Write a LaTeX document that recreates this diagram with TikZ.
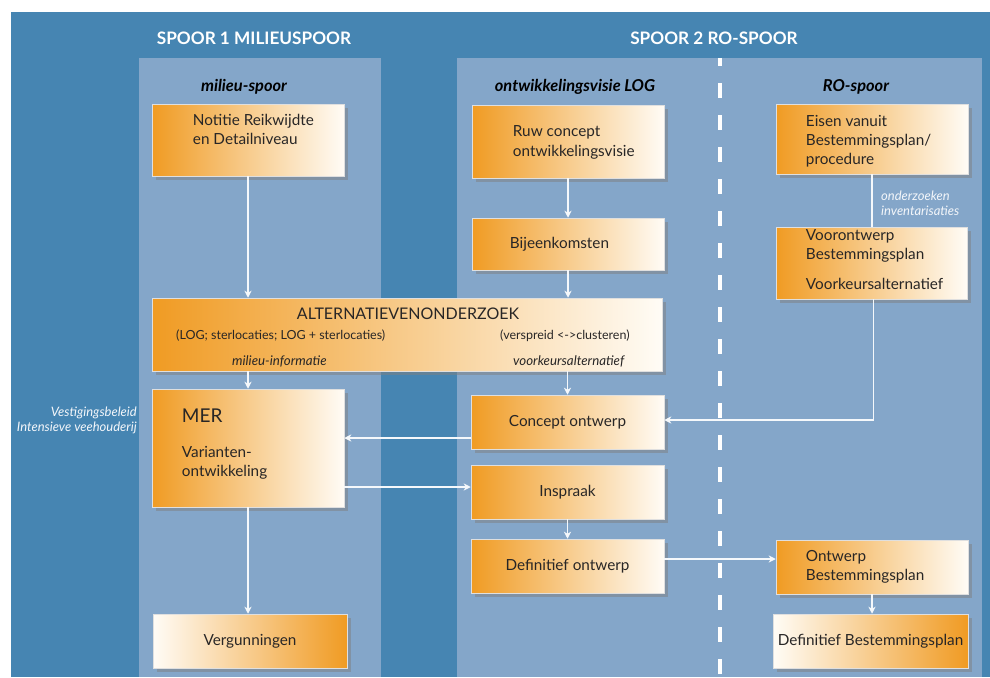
\documentclass[tikz,border=0pt]{standalone}
\usepackage{fontspec}
\setmainfont{Lato}
\usepackage{tikz}
\usetikzlibrary{arrows.meta,shadows}
\definecolor{donker}{RGB}{70,133,178}
\definecolor{licht}{RGB}{132,166,201}
\definecolor{oranje}{RGB}{240,155,35}
\definecolor{creme}{RGB}{255,252,246}
\definecolor{tekst}{RGB}{40,38,38}

\begin{document}
\begin{tikzpicture}[x=1pt,y=-1pt,>={Stealth[length=7pt,width=7pt,inset=2pt]},
 stap/.style={rectangle,draw=white!75!gray,line width=0.5pt,left color=oranje,right color=creme,
  drop shadow={shadow xshift=4pt,shadow yshift=-4pt,opacity=0.5},inner sep=0pt,
  text=tekst,font=\fontsize{15.3}{19}\selectfont},
 stapr/.style={stap,left color=creme,right color=oranje},
 blok/.style={inner sep=0pt,align=left,text=tekst,font=\fontsize{15.3}{19}\selectfont},
 pijl/.style={draw=white!92!licht,line width=1.2pt},
 kop/.style={text=white,font=\bfseries\fontsize{17.2}{22}\selectfont},
 subkop/.style={text=black,font=\bfseries\itshape\fontsize{16.4}{18}\selectfont},
 opm/.style={inner sep=0pt,text=white!90!licht,font=\itshape\fontsize{13}{15}\selectfont}]
\useasboundingbox (0,0) rectangle (990,677);
\fill[white] (0,0) rectangle (990,677);
\fill[donker] (11,12) rectangle (990,677);
\fill[licht] (139,58) rectangle (381,677);
\fill[licht] (457,58) rectangle (982,677);
\draw[white,line width=4pt,dash pattern=on 15pt off 17pt,dash phase=7pt] (720,58) -- (720,677);

\node[kop] (spoor1) at (254,38) {SPOOR 1 MILIEUSPOOR};
\node[kop] (spoor2) at (714,38) {SPOOR 2 RO-SPOOR};
\node[subkop] (milieu) at (244,87) {milieu-spoor};
\node[subkop] (log) at (575,87) {ontwikkelingsvisie LOG};
\node[subkop] (ro) at (856,87) {RO-spoor};

\node[stap,minimum width=192,minimum height=72] (notitie) at (248,140) {};
\node[blok,anchor=west] (notitiet) at ([xshift=41pt,yshift=11pt]notitie.west) {Notitie Reikwijdte\\en Detailniveau};
\node[stap,minimum width=192,minimum height=73] (ruw) at (568,141.5) {};
\node[blok,anchor=west,font=\fontsize{15.3}{20}\selectfont] (ruwt) at ([xshift=41pt,yshift=-1pt]ruw.west) {Ruw concept\\ontwikkelingsvisie};
\node[stap,minimum width=192,minimum height=70] (eisen) at (872,139) {};
\node[blok,anchor=west] (eisent) at ([xshift=30pt,yshift=-2pt]eisen.west) {Eisen vanuit\\Bestemmingsplan/\\procedure};
\node[stap,minimum width=192,minimum height=52] (bijeen) at (568,244) {};
\node[blok,anchor=west] (bijeent) at ([xshift=38pt]bijeen.west) {Bijeenkomsten};
\node[stap,minimum width=191,minimum height=72] (voor) at (871.5,263) {};
\node[blok,anchor=west] (voort) at ([xshift=30pt,yshift=3pt]voor.west) {Voorontwerp\\Bestemmingsplan\\[11pt]Voorkeursalternatief};

\node[stap,minimum width=510,minimum height=73] (alt) at (407,334.5) {};
\node[blok,font=\fontsize{16}{20}\selectfont] (altt) at (408,314) {ALTERNATIEVENONDERZOEK};
\node[blok,anchor=west,font=\fontsize{12.5}{15}\selectfont] (altl) at (176,336) {(LOG; sterlocaties; LOG + sterlocaties)};
\node[blok,anchor=west,font=\fontsize{12.5}{15}\selectfont] (altr) at (500,336) {(verspreid <->clusteren)};
\node[blok,anchor=west,font=\itshape\fontsize{13.3}{15}\selectfont] (mi) at (232,361) {milieu-informatie};
\node[blok,anchor=west,font=\itshape\fontsize{13.3}{15}\selectfont] (vk) at (513,361) {voorkeursalternatief};

\node[stap,minimum width=192,minimum height=118] (mer) at (248,448) {};
\node[blok,anchor=west] (mert) at ([xshift=30pt,yshift=4pt]mer.west) {{\fontsize{19}{20}\selectfont MER}\\[16pt]Varianten-\\ontwikkeling};
\node[stap,minimum width=193,minimum height=54] (concept) at (567.5,422) {Concept ontwerp};
\node[stap,minimum width=193,minimum height=54] (inspraak) at (567.5,492) {Inspraak};
\node[stap,minimum width=193,minimum height=54] (defontw) at (567.5,566) {Definitief ontwerp};
\node[stap,minimum width=192,minimum height=54] (ontwbp) at (872,567) {};
\node[blok,anchor=west] (ontwbpt) at ([xshift=30pt]ontwbp.west) {Ontwerp\\Bestemmingsplan};
\node[stapr,minimum width=194,minimum height=54] (vergun) at (250,641) {Vergunningen};
\node[stapr,minimum width=195,minimum height=54] (defbp) at (870.5,641) {Definitief Bestemmingsplan};

\node[opm,anchor=east,align=right] (beleid) at (137,420) {Vestigingsbeleid\\Intensieve veehouderij};
\node[opm,anchor=west,align=left] (onderzoek) at (881,203) {onderzoeken\\inventarisaties};

\draw[pijl,->] (notitie.south) -- (notitie.south |- alt.north);
\draw[pijl,->] (ruw) -- (bijeen);
\draw[pijl,->] (bijeen.south) -- (bijeen.south |- alt.north);
\draw[pijl] (eisen.south) -- (eisen.south |- voor.north);
\draw[pijl,->] ([xshift=2pt]voor.south) |- ([yshift=2pt]concept.east);
\draw[pijl,->] (mer.north |- alt.south) -- (mer.north);
\draw[pijl,->] (concept.north |- alt.south) -- (concept.north);
\draw[pijl,->] ([yshift=-16pt]concept.west) -- ([yshift=-16pt]concept.west -| mer.east);
\draw[pijl,->] ([yshift=5pt]inspraak.west -| mer.east) -- ([yshift=5pt]inspraak.west);
\draw[pijl,->] (inspraak) -- (defontw);
\draw[pijl,->] ([yshift=7pt]defontw.east) -- ([yshift=7pt]defontw.east -| ontwbp.west);
\draw[pijl,->] (ontwbp.south) -- (ontwbp.south |- defbp.north);
\draw[pijl,->] (mer.south) -- (mer.south |- vergun.north);
\end{tikzpicture}
\end{document}
